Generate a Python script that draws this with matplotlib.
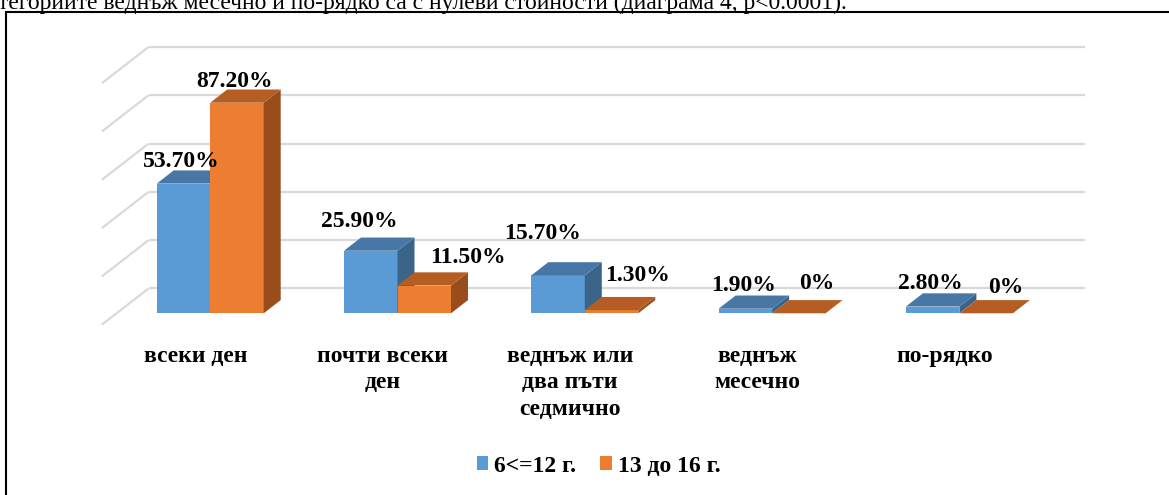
import matplotlib
matplotlib.use("Agg")
import matplotlib.pyplot as plt
from matplotlib.patches import Polygon, Rectangle, Patch

# data
categories = ["всеки ден", "почти всеки\nден", "веднъж или\nдва пъти\nседмично",
              "веднъж\nмесечно", "по-рядко"]
series_names = ["6<=12 г.", "13 до 16 г."]
young = [53.7, 25.9, 15.7, 1.9, 2.8]
teen = [87.2, 11.5, 1.3, 0, 0]
gridlines = [0, 20, 40, 60, 80, 100]
caption = "тегориите веднъж месечно и по-рядко са с нулеви стойности (диаграма 4, p<0.0001)."

# Excel shoved some data labels around, nudges in pixels (x right, y up)
young_nudge = [(-11, 3), (-20, 11), (-24, 23), (-10, 5), (-11, 4)]
teen_nudge = [(-11, 3), (35, 9), (18, 16), (9, 11), (11, 7)]

# look
W, H, DPI = 1169, 495, 100
PX_CAT = 187.3       # pixels per category
PX_PCT = 2.415       # pixels per percent
X0 = 210.2           # pixel x of first group centre
Y0 = 313.3           # pixel y (from top) of the zero line
BW = 53.5 / PX_CAT   # bar width in category units
DX = 17 / PX_CAT     # depth step, x
DY = 13.2 / PX_PCT   # depth step, y
Z_FRONT, Z_BACK = -0.87, 1.88
blue = ("#5B9BD5", "#4877A6", "#3B6489")    # front, top, side
orange = ("#ED7D31", "#B55D22", "#9A4D1C")
grid_col = "#D9D9D9"
FONT = ["Liberation Serif", "DejaVu Serif"]
FS = 17
LINE_PX = 26.7

plt.rcParams["font.family"] = FONT


def P(x, y, z):
    return (x + z * DX, y + z * DY)


def draw_bar(ax, x, h, cols):
    front = Rectangle((x, 0), BW, h, facecolor=cols[0], edgecolor="none")
    top = Polygon([P(x, h, 0), P(x + BW, h, 0), P(x + BW, h, 1), P(x, h, 1)],
                  closed=True, facecolor=cols[1], edgecolor="none")
    side = Polygon([P(x + BW, 0, 0), P(x + BW, 0, 1), P(x + BW, h, 1), P(x + BW, h, 0)],
                   closed=True, facecolor=cols[2], edgecolor="none")
    ax.add_patch(front)
    ax.add_patch(side)
    ax.add_patch(top)


def fmt(v):
    return "0%" if v == 0 else f"{v:.2f}%"


fig = plt.figure(figsize=(W / DPI, H / DPI), dpi=DPI)
ax = fig.add_axes([0, 0, 1, 1])
ax.set_xlim(-X0 / PX_CAT, (W - X0) / PX_CAT)
ax.set_ylim((Y0 - H) / PX_PCT, Y0 / PX_PCT)
ax.axis("off")

n = len(categories)
# back wall and left wall gridlines
for g in gridlines:
    xs, ys = zip(P(-0.5, g, Z_BACK), P(n - 0.5, g, Z_BACK))
    ax.plot(xs, ys, color=grid_col, lw=1.6, solid_capstyle="butt", zorder=1)
    xs, ys = zip(P(-0.5, g, Z_FRONT), P(-0.5, g, Z_BACK))
    ax.plot(xs, ys, color=grid_col, lw=1.6, solid_capstyle="butt", zorder=1)

for i in range(n):
    draw_bar(ax, i - BW, young[i], blue)
    draw_bar(ax, i, teen[i], orange)

    for v, x, nudge in ((young[i], i - BW, young_nudge[i]), (teen[i], i, teen_nudge[i])):
        # anchor: middle of the top face in x, its back edge in y
        anchor = (x + BW / 2 + 0.5 * DX, v + DY)
        ax.annotate(fmt(v), xy=anchor, xytext=nudge,
                    textcoords="offset pixels", ha="center", va="baseline",
                    fontsize=FS, fontweight="bold", zorder=5)

    # category label, one line at a time
    for k, line in enumerate(categories[i].split("\n")):
        ax.annotate(line, xy=P(i, 0, Z_FRONT), xytext=(0, -37 - k * LINE_PX),
                    textcoords="offset pixels", ha="center", va="baseline",
                    fontsize=FS, fontweight="bold")

handles = [Patch(facecolor=blue[0], label=series_names[0]),
           Patch(facecolor=orange[0], label=series_names[1])]
fig.legend(handles=handles, loc="center", bbox_to_anchor=(598.5 / W, 1 - 466 / H),
           ncol=2, frameon=False, handlelength=0.5, handleheight=0.5,
           handletextpad=0.25, columnspacing=1.0,
           prop={"family": FONT, "weight": "bold", "size": FS})

# outer chart frame (only left and top edges are on the canvas)
fig.add_artist(Rectangle((6 / W, -0.2), 1.2, 1.2 - 12 / H, transform=fig.transFigure,
                         fill=False, edgecolor="black", lw=1.5, clip_on=False))

# clipped line of body text above the chart
fig.text(-0.002, 1 - 8.5 / H, caption, ha="left", va="baseline", fontsize=17)

fig.savefig("out.png", dpi=DPI)
